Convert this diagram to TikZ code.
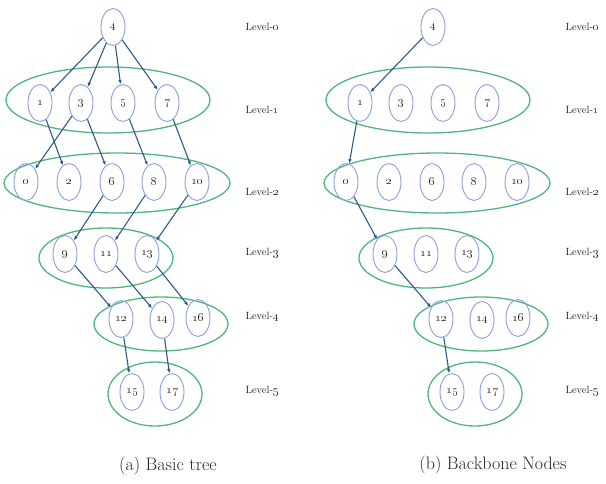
\documentclass[tikz,border=0pt]{standalone}
\usepackage{tikz}
\usetikzlibrary{shapes.geometric,arrows.meta}
\definecolor{ringgreen}{HTML}{4FB581}
\definecolor{keyblue}{HTML}{8E9CE2}
\definecolor{linkblue}{HTML}{2C5B88}

\begin{document}
\begin{tikzpicture}[x=1pt,y=-1pt,font=\fontsize{11.5}{13}\selectfont,
  key/.style={ellipse,draw=keyblue,line width=0.9pt,minimum width=24pt,minimum height=37pt,inner sep=0pt,text=black!85},
  ring/.style={draw=ringgreen,line width=1.3pt},
  link/.style={draw=linkblue,line width=1.1pt,-{Latex[length=4.5pt,width=3.5pt]}},
  lvl/.style={font=\fontsize{10.5}{12}\selectfont,text=black!85}]
  \useasboundingbox (0,0) rectangle (606,483);
  % the same levels in both trees
  \foreach \p/\dx in {a/0,b/320}{
    \begin{scope}[xshift=\dx pt]
      \draw[ring] (108,100) ellipse [x radius=102,y radius=33];
      \draw[ring] (117,183) ellipse [x radius=113,y radius=30];
      \draw[ring] (106,258) ellipse [x radius=67,y radius=30];
      \draw[ring] (161,324) ellipse [x radius=67,y radius=27];
      \draw[ring] (155,394) ellipse [x radius=47,y radius=32];
      \foreach \n/\x/\y in {4/113/27,
          1/40/103,3/81/103,5/123/103,7/167/103,
          0/26/182,2/69/182,6/112/182,8/154/182,10/197/182,
          9/65/254,11/106/254,13/147/254,
          12/121/319,14/162/320,16/198/318,
          15/132/392,17/172/392}
        \node[key] (\p\n) at (\x,\y) {\oldstylenums{\n}};
      \foreach \k/\y in {0/27,1/110,2/192,3/253,4/317,5/391}
        \node[lvl] (\p lab\k) at (262,\y) {Level-\oldstylenums{\k}};
    \end{scope}}
  % (a) every parent link
  \foreach \s/\t in {4/1,4/3,4/5,4/7,1/2,3/0,3/6,5/8,7/10,
      6/9,8/11,10/13,9/12,11/14,13/16,12/15,14/17}
    \draw[link] (a\s) -- (a\t);
  % (b) only the backbone
  \foreach \s/\t in {4/1,1/0,0/9,9/12,12/15}
    \draw[link] (b\s) -- (b\t);
  \node[font=\fontsize{18}{21}\selectfont,text=black!85] (capa) at (168,466) {(a) Basic tree};
  \node[font=\fontsize{18}{21}\selectfont,text=black!85] (capb) at (493,465) {(b) Backbone Nodes};
\end{tikzpicture}
\end{document}
